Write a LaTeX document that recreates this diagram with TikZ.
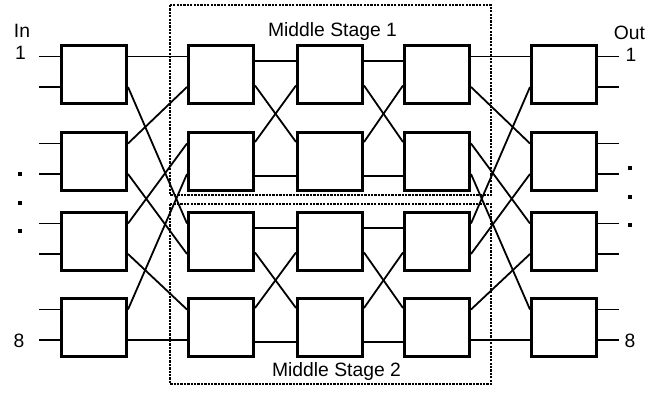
\documentclass[tikz,border=0pt]{standalone}
\usepackage{fontspec}
\setmainfont{Liberation Sans}
\begin{document}
\begin{tikzpicture}[x=1pt,y=-1pt,
  swbox/.style={draw, line width=3pt, minimum width=65pt, minimum height=58pt, inner sep=0pt, anchor=north west},
  wire/.style={line width=1.8pt},
  stagebox/.style={draw, line width=2.5pt, dash pattern=on 2.3pt off 1.1pt},
  lbl/.style={font=\fontsize{19.3}{22}\selectfont, inner sep=0pt, anchor=base},
  dotmark/.style={fill=black, draw=none, minimum size=3.6pt, inner sep=0pt}]
\useasboundingbox (0,0) rectangle (662,393);
% stage frames
\draw[stagebox] (170,5) rectangle (491,195);
\draw[stagebox] (170,204) rectangle (491,384);
\node[lbl] (ms1) at (332.5,37) {Middle Stage 1};
\node[lbl] (ms2) at (336.5,376) {Middle Stage 2};
% switch boxes
\foreach \c/\x in {1/60,2/187,3/296,4/403,5/530}{
  \foreach \r/\y in {1/44,2/131,3/211,4/297}{
    \node[swbox, fill=white] (c\c r\r) at (\x,\y) {};
  }
}
% input / output stubs
\foreach \r in {1,2,3,4}{
  \draw[wire] ([yshift=-12.5pt]c1r\r.north west) -- ++(-21,0);
  \draw[wire] ([yshift=-43pt]c1r\r.north west) -- ++(-21,0);
  \draw[wire] ([yshift=-12.5pt]c5r\r.north east) -- ++(21,0);
  \draw[wire] ([yshift=-43pt]c5r\r.north east) -- ++(21,0);
}
% column 1 -> column 2
\draw[wire] ([yshift=-12.5pt]c1r1.north east) -- ([yshift=-12.5pt]c2r1.north west);
\draw[wire] ([yshift=-43pt]c1r1.north east) -- ([yshift=-12.5pt]c2r3.north west);
\draw[wire] ([yshift=-12.5pt]c1r2.north east) -- ([yshift=-43pt]c2r1.north west);
\draw[wire] ([yshift=-43pt]c1r2.north east) -- ([yshift=-43pt]c2r3.north west);
\draw[wire] ([yshift=-12.5pt]c1r3.north east) -- ([yshift=-12.5pt]c2r2.north west);
\draw[wire] ([yshift=-43pt]c1r3.north east) -- ([yshift=-12.5pt]c2r4.north west);
\draw[wire] ([yshift=-12.5pt]c1r4.north east) -- ([yshift=-43pt]c2r2.north west);
\draw[wire] ([yshift=-43pt]c1r4.north east) -- ([yshift=-43pt]c2r4.north west);
% inside the middle stages
\foreach \a/\b in {2/3,3/4}{
  \foreach \u/\l in {1/2,3/4}{
    \draw[wire] ([yshift=-17pt]c\a r\u.north east) -- ([yshift=-17pt]c\b r\u.north west);
    \draw[wire] ([yshift=-41.5pt]c\a r\u.north east) -- ([yshift=-11pt]c\b r\l.north west);
    \draw[wire] ([yshift=-11pt]c\a r\l.north east) -- ([yshift=-41.5pt]c\b r\u.north west);
    \draw[wire] ([yshift=-45pt]c\a r\l.north east) -- ([yshift=-45pt]c\b r\l.north west);
  }
}
% column 4 -> column 5
\draw[wire] ([yshift=-12.5pt]c4r1.north east) -- ([yshift=-12.5pt]c5r1.north west);
\draw[wire] ([yshift=-43pt]c4r1.north east) -- ([yshift=-12.5pt]c5r2.north west);
\draw[wire] ([yshift=-12.5pt]c4r2.north east) -- ([yshift=-12.5pt]c5r3.north west);
\draw[wire] ([yshift=-43pt]c4r2.north east) -- ([yshift=-12.5pt]c5r4.north west);
\draw[wire] ([yshift=-12.5pt]c4r3.north east) -- ([yshift=-43pt]c5r1.north west);
\draw[wire] ([yshift=-43pt]c4r3.north east) -- ([yshift=-43pt]c5r2.north west);
\draw[wire] ([yshift=-12.5pt]c4r4.north east) -- ([yshift=-43pt]c5r3.north west);
\draw[wire] ([yshift=-43pt]c4r4.north east) -- ([yshift=-43pt]c5r4.north west);
% labels
\node[lbl] (in) at (22,38) {In};
\node[lbl] (in1) at (20.5,60) {1};
\node[lbl] (in8) at (19,347) {8};
\node[lbl] (out) at (629.5,40) {Out};
\node[lbl] (out1) at (631,62) {1};
\node[lbl] (out8) at (630,347.5) {8};
% ellipsis dots
\node[dotmark] (ld1) at (20,174) {};
\node[dotmark] (ld2) at (20,203) {};
\node[dotmark] (ld3) at (20,231) {};
\node[dotmark] (rd1) at (630,168) {};
\node[dotmark] (rd2) at (630,197) {};
\node[dotmark] (rd3) at (630,225) {};
\end{tikzpicture}
\end{document}
